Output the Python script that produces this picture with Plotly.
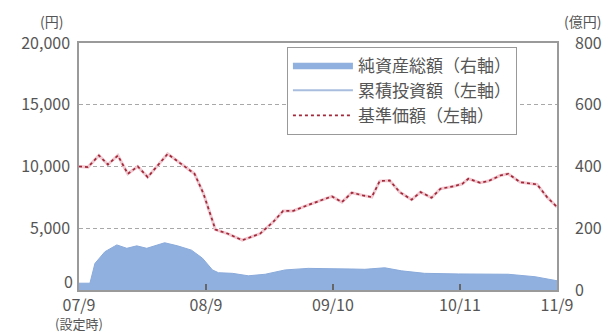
import plotly.graph_objects as go

# ---- data ----
# x positions: months elapsed since launch (07/9)
tick_pos = [0, 12.75, 25.5, 38.25, 48]
tick_text = ["07/9", "08/9", "09/10", "10/11", "11/9"]
left_ticks = [5000, 10000, 15000, 20000]
right_ticks = [0, 200, 400, 600, 800]

nav_months = [0, 0.9, 2.0, 2.9, 3.9, 4.9, 5.9, 6.9, 8.9, 10.3, 11.6, 12.5, 13.7, 14.9,
              16.4, 18.2, 19.5, 20.5, 21.5, 22.9, 24.2, 25.4, 26.4, 27.4, 28.5, 29.4,
              30.2, 31.2, 32.2, 33.4, 34.3, 35.4, 36.3, 37.6, 38.5, 39.1, 40.3, 41.1,
              42.3, 43.1, 44.3, 46.0, 47.0, 48.0]
nav_values = [10000, 9950, 10890, 10160, 10890, 9410, 10000, 9140, 11020, 10210, 9410,
              7800, 4890, 4570, 4030, 4570, 5510, 6400, 6400, 6850, 7200, 7580, 7120,
              7880, 7660, 7520, 8820, 8870, 7930, 7310, 7930, 7470, 8200, 8390, 8600,
              9010, 8680, 8820, 9270, 9410, 8730, 8550, 7520, 6720]

asset_months = [0, 1.1, 1.6, 2.6, 3.8, 4.8, 5.8, 6.8, 8.6, 9.9, 11.3, 12.4, 13.4, 14.0,
                15.4, 17.0, 18.7, 20.7, 23.0, 25.7, 27.4, 28.7, 30.7, 32.4, 34.7, 38.1,
                43.1, 45.8, 48.0]
asset_values = [22, 22, 86, 124, 146, 135, 143, 135, 153, 143, 129, 103, 65, 56,
                54, 46, 51, 65, 70, 70, 68, 67, 72, 62, 54, 52, 51, 43, 30]

cum_months = [0, 48]
cum_values = [0, 0]

label_asset = "純資産総額（右軸）"
label_cum = "累積投資額（左軸）"
label_nav = "基準価額（左軸）"

FONT = "Noto Sans CJK JP"
GRAY = "#555555"
AXIS = "#9a9a9a"

fig = go.Figure()

fig.add_trace(go.Scatter(
    x=asset_months, y=asset_values, yaxis="y2", name=label_asset,
    mode="lines", fill="tozeroy", fillcolor="#90b1e0",
    line=dict(color="#8aaadb", width=1), legendrank=1))

fig.add_trace(go.Scatter(
    x=cum_months, y=cum_values, name=label_cum, mode="lines",
    line=dict(color="#a9bedf", width=2), legendrank=2))

fig.add_trace(go.Scatter(
    x=nav_months, y=nav_values, mode="lines", showlegend=False,
    line=dict(color="#f0c8d0", width=3), hoverinfo="skip"))

fig.add_trace(go.Scatter(
    x=nav_months, y=nav_values, name=label_nav, mode="lines",
    line=dict(color="#a02838", width=1.7, dash="dot"), legendrank=3))

fig.update_layout(
    width=614, height=333,
    margin=dict(l=79, r=57, t=43, b=43),
    paper_bgcolor="white", plot_bgcolor="white",
    font=dict(family=FONT, size=16, color=GRAY),
    xaxis=dict(range=[0, 48], tickvals=tick_pos, ticktext=tick_text,
               showgrid=False, zeroline=False, showline=True, mirror=True,
               linecolor=AXIS, linewidth=1.5, ticks="inside", ticklen=6,
               tickcolor="#666666", tickwidth=1.5,
               tickfont=dict(size=16, color=GRAY)),
    yaxis=dict(range=[0, 20000], tickvals=left_ticks,
               tickformat=",d", showgrid=True, gridcolor="#a8a8a8",
               griddash="4px,3px", gridwidth=1, zeroline=False,
               showline=True, linecolor=AXIS, linewidth=1.5, mirror=True,
               ticks="", tickfont=dict(size=16, color=GRAY), ticklabelstandoff=4),
    yaxis2=dict(range=[0, 800], tickvals=right_ticks, overlaying="y",
                side="right", showgrid=False, zeroline=False, showline=False,
                ticks="", tickfont=dict(size=16, color=GRAY), ticklabelstandoff=17),
    legend=dict(x=0.435, xanchor="left", y=0.985, yanchor="top",
                bordercolor="#999999", borderwidth=1, bgcolor="white",
                font=dict(size=17, color=GRAY), tracegroupgap=0,
                itemwidth=60, traceorder="normal"),
    showlegend=True,
)

fig.add_annotation(text="0", xref="paper", yref="y", x=0, y=0, xanchor="right",
                   xshift=-4, yshift=9, showarrow=False,
                   font=dict(size=16, color=GRAY))
fig.add_annotation(text="(円)", xref="paper", yref="paper", x=-0.058, y=1.0,
                   xanchor="center", yanchor="middle",
                   yshift=22, showarrow=False, font=dict(size=14, color=GRAY))
fig.add_annotation(text="(億円)", xref="paper", yref="paper", x=1.054, y=1.0,
                   xanchor="center", yanchor="middle",
                   yshift=22, showarrow=False, font=dict(size=14, color=GRAY))
fig.add_annotation(text="(設定時)", xref="x", yref="paper", x=0, y=0,
                   yanchor="middle", yshift=-33, showarrow=False,
                   font=dict(size=13, color=GRAY))

fig.write_html("out.html")
